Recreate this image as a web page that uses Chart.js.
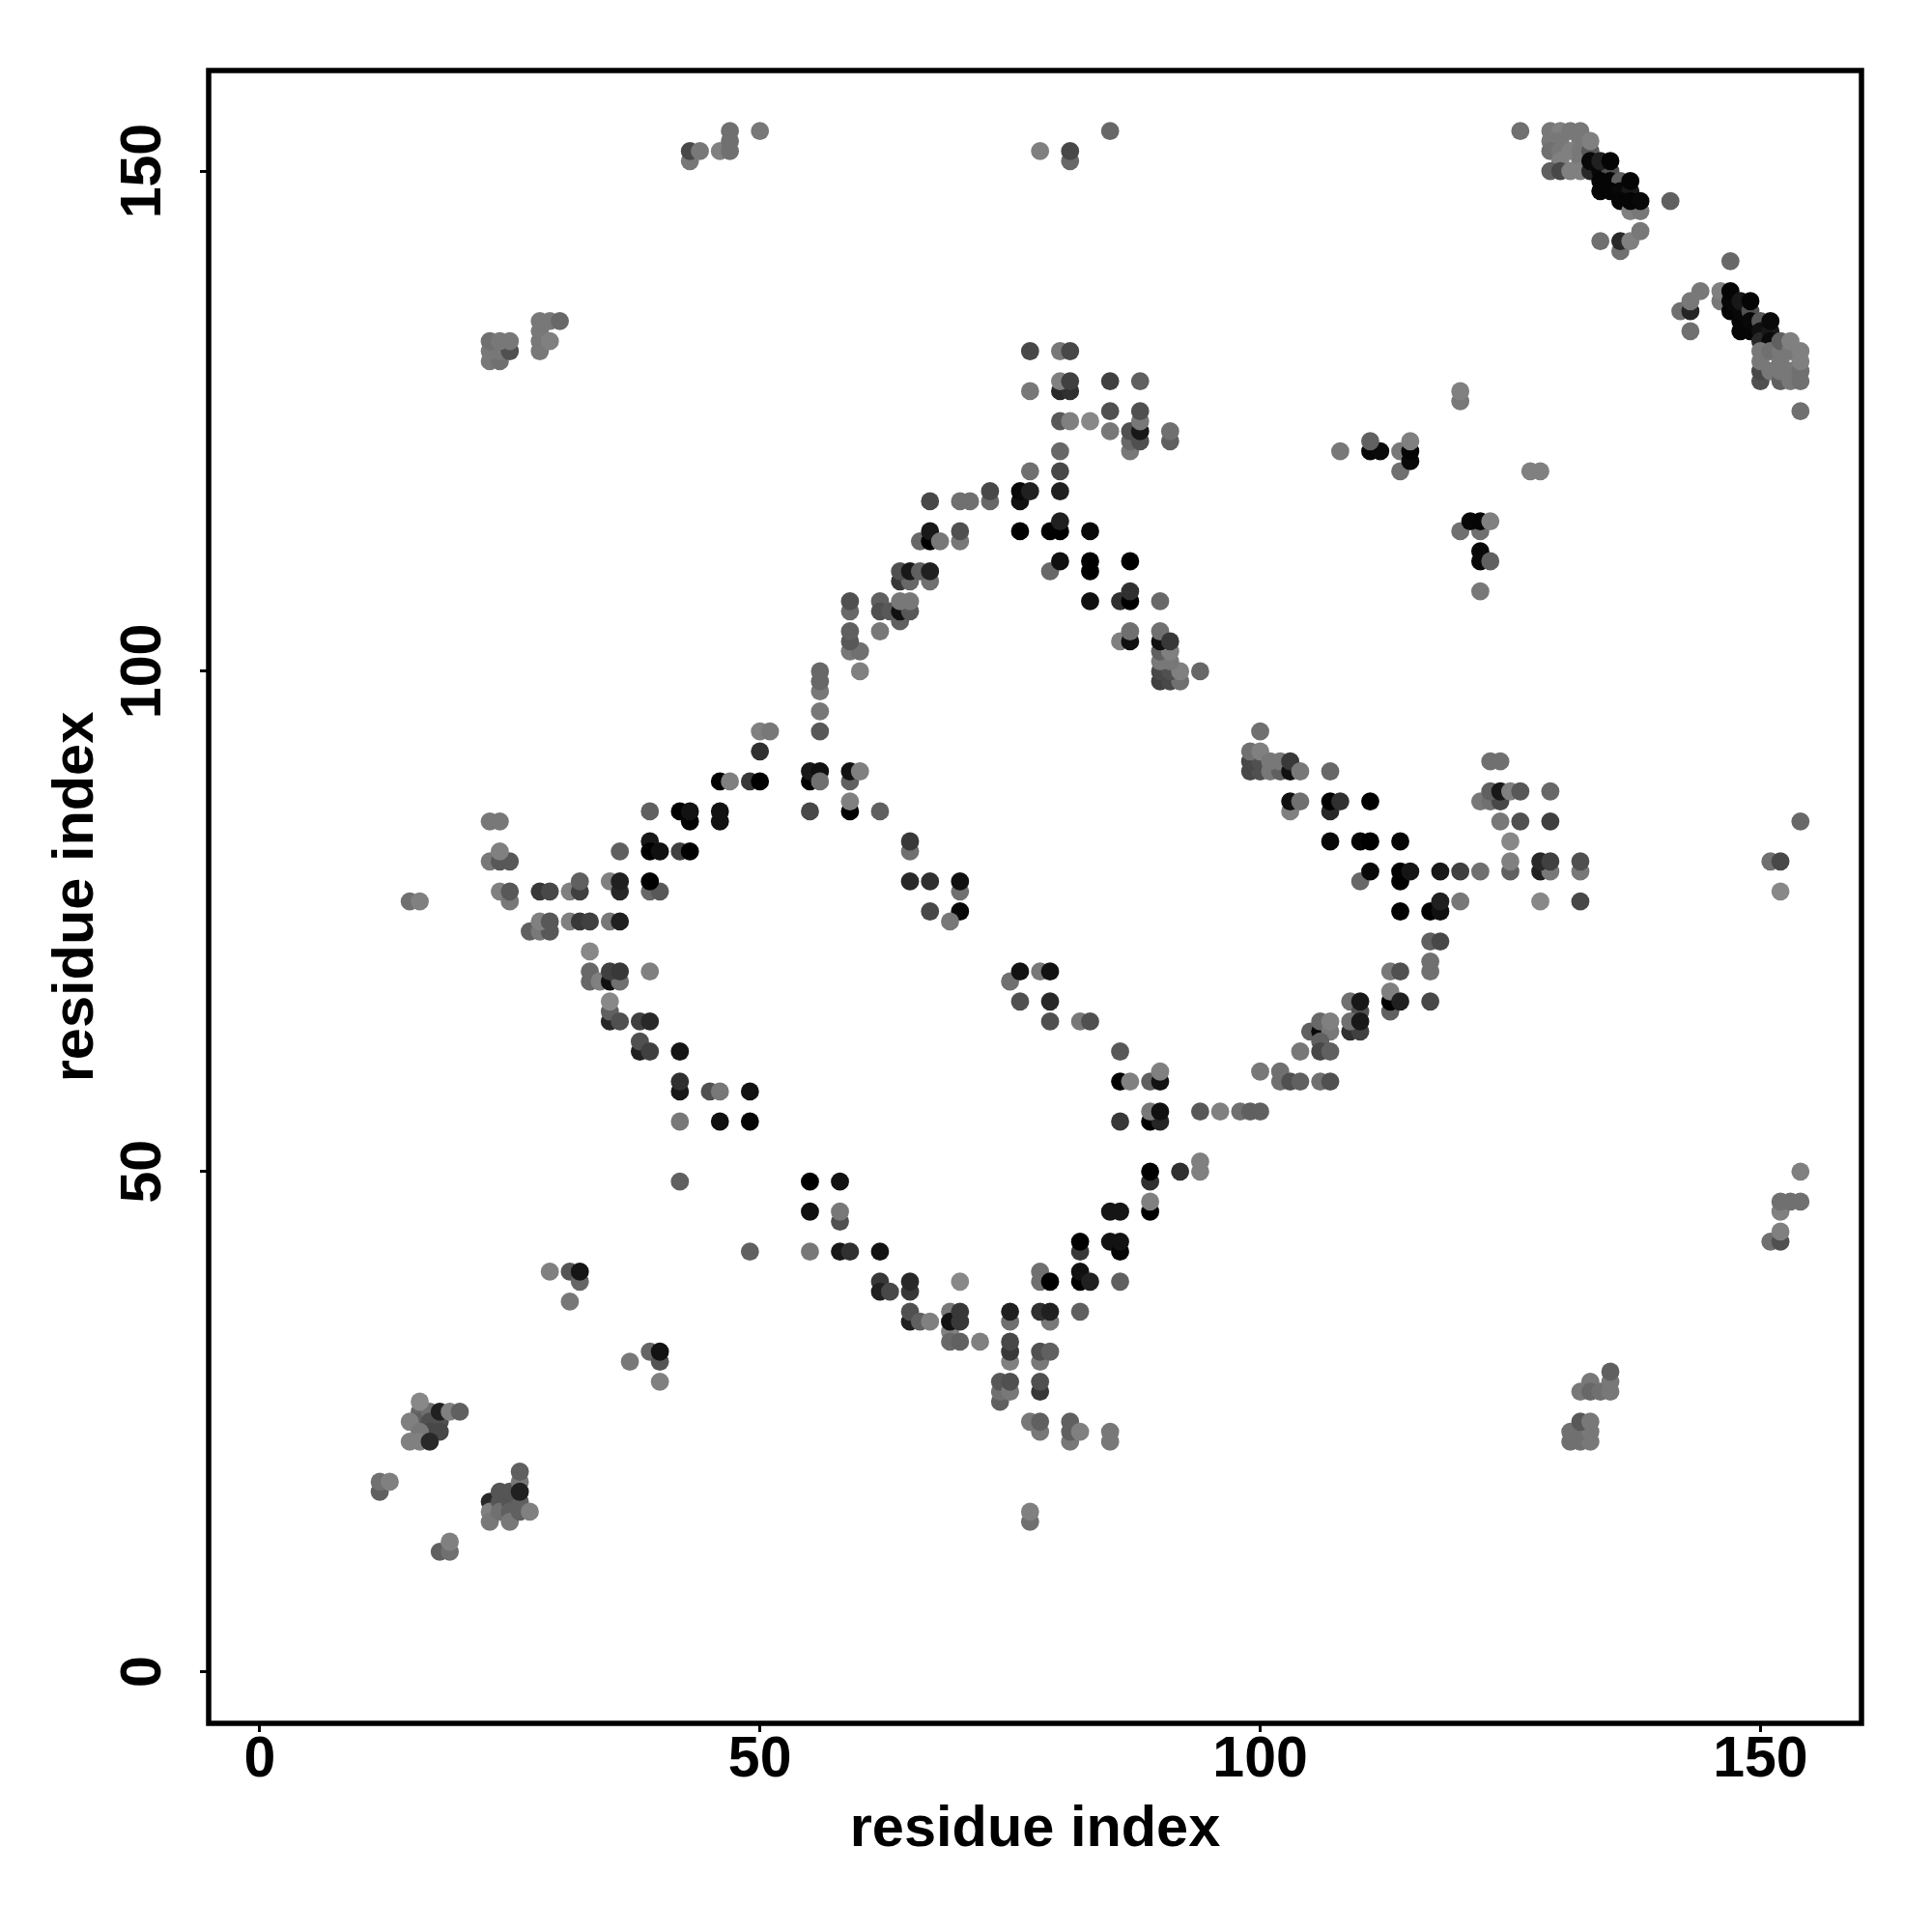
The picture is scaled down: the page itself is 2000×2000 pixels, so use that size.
<!DOCTYPE html>
<html>
<head>
<meta charset="utf-8">
<style>
  html, body { margin: 0; padding: 0; background: #fff; }
  canvas { display: block; }
</style>
<script src="https://cdn.jsdelivr.net/npm/chart.js@4/dist/chart.umd.js"></script>
</head>
<body>
<canvas id="chart" width="2000" height="2000"></canvas>
<script>
const tickValues = [0, 50, 100, 150];
const axisTitle = 'residue index';

// one row per cluster, the three lists line up row by row
const contactX = [
  12,12,13,
  16,16,15,17,17,18,17,18,16,15,16,17,16,18,19,20,
  23,23,23,24,24,25,25,25,26,26,27,24,25,26,26,26,
  18,19,19,
  29,31,32,32,31,
  37,39,40,40,40,
  42,49,
  55,58,55,58,58,
  55,58,59,62,
  62,62,63,65,65,70,
  65,65,66,67,
  69,69,70,69,69,70,70,72,
  75,75,75,75,75,
  79,78,79,78,78,79,
  74,74,74,75,75,78,78,
  77,78,78,81,81,81,82,85,85,77,77,
  86,87,89,90,90,
  86,89,90,89,90,94,96,98,99,100,
  89,89,92,94,94,89,89,
  85,86,82,82,85,86,86,
  78,78,79,82,82,83,86,82,
  15,16,23,24,
  23,24,25,24,
  24,25,25,28,29,
  31,32,32,35,36,36,
  39,40,39,36,
  39,39,40,42,43,
  39,42,43,43,46,46,
  46,47,49,50,
  55,59,59,
  55,55,56,56,59,59,60,
  27,28,29,28,29,31,32,33,35,36,
  33,33,33,34,35,36,35,36,39,
  35,35,35,36,38,39,
  38,38,39,42,
  42,42,45,46,49,42,46,49,
  50,51,50,
  100,99,100,99,100,99,100,101,102,101,102,103,103,104,107,
  103,103,104,107,107,108,111,
  107,110,111,114,
  110,111,114,114,115,118,120,122,
  114,117,118,118,120,
  117,118,117,117,113,114,
  113,113,113,114,117,
  109,110,110,109,110,109,110,
  105,106,106,107,107,106,106,107,104,
  100,102,102,103,104,106,107,
  123,124,122,123,124,123,124,125,126,129,
  124,126,129,125,125,125,
  128,129,128,129,132,132,128,132,
  154,151,152,152,
  154,152,152,153,154,151,152,152,
  77,80,81,77,80,81,80,81,85,88,
  80,81,83,85,85,
  87,87,87,88,88,88,88,91,91,
  80,77,80,80,76,76,77,
  73,73,67,70,71,
  76,79,80,80,83,
  66,67,67,68,70,70,
  79,80,83,83,87,
  83,86,87,87,90,
  64,65,67,64,65,66,67,
  59,59,62,62,63,64,64,65,64,65,
  60,59,60,59,59,62,
  56,56,56,56,56,
  86,87,87,
  90,91,92,90,91,92,94,90,91,90,91,90,90,91,
  23,24,23,24,25,23,24,25,
  28,28,28,29,28,29,30,
  43,43,44,46,47,47,47,50,
  78,81,81,85,
  133,132,133,134,135,135,135,
  131,132,133,131,132,133,132,133,
  120,120,108,111,112,111,
  114,114,115,115,115,
  127,128,120,122,121,122,123,
  122,122,123,122,
  126,
  129,130,131,132,129,130,132,129,130,131,132,130,132,129,130,131,132,133,133,
  133,134,135,133,134,135,134,135,136,134,135,136,137,137,136,137,138,137,138,
  141,136,136,134,137,138,
  147,144,142,143,143,143,
  146,146,147,147,147,148,148,148,149,149,148,149,149,150,150,150,151,151,151,
  150,150,150,150,151,151,152,152,152,152,152,153,153,153,153,154,154,154,154,154,
  86,82,83,79,79,75,76,76,78,79,
  65,65,65,67,70,70,67,70,69,62,
];

const contactY = [
  18,19,19,
  26,25,25,26,25,25,24,24,24,23,23,23,27,26,26,26,
  17,16,15,17,16,17,16,15,17,16,16,18,18,19,20,18,
  12,12,13,
  40,40,39,40,37,
  31,32,31,32,29,
  49,42,
  49,49,46,45,46,
  42,42,42,42,
  39,38,38,38,39,39,
  35,36,35,35,
  34,33,33,36,35,35,36,33,
  35,36,31,32,33,
  35,36,36,31,32,32,
  27,28,29,28,29,28,29,
  25,24,25,23,24,25,24,23,24,15,16,
  59,59,59,59,60,
  55,55,55,56,56,56,56,56,56,56,
  49,50,50,50,51,46,47,
  46,46,42,43,43,42,43,
  39,40,39,39,40,39,39,36,
  77,77,85,85,
  81,81,81,82,
  78,77,78,78,78,
  78,78,79,79,78,79,
  78,78,79,82,
  83,82,82,82,82,
  86,86,85,86,85,86,
  89,89,89,89,
  86,86,87,
  89,90,90,89,89,90,90,
  74,74,74,75,75,75,75,75,75,75,
  72,69,70,69,69,69,70,70,70,
  65,66,67,65,65,65,
  62,63,62,62,
  58,59,58,58,58,55,55,55,
  94,94,92,
  94,90,90,91,91,92,92,90,90,91,91,90,91,90,90,
  86,87,87,86,87,87,87,
  83,83,83,83,
  79,80,79,80,80,80,80,80,
  76,76,76,77,77,
  73,73,70,71,70,70,
  66,67,68,67,67,
  67,66,67,64,64,65,65,
  64,64,65,64,65,63,62,62,62,
  60,60,59,59,59,59,59,
  91,91,87,87,87,88,88,88,88,88,
  85,85,85,83,80,81,
  80,80,81,81,80,81,77,77,
  85,81,81,78,
  50,46,47,47,47,43,43,44,
  132,132,132,128,128,128,129,129,129,129,
  125,125,125,126,124,
  122,123,124,123,124,125,126,123,124,
  122,120,120,118,117,118,118,
  117,118,117,117,117,
  114,114,114,115,114,
  113,113,114,113,113,114,
  110,111,110,111,111,
  107,107,107,108,107,
  109,109,109,110,110,110,110,
  106,107,107,106,106,105,106,106,107,107,
  100,102,102,103,104,104,
  98,99,100,96,94,
  103,103,104,
  99,99,99,100,100,100,100,101,101,102,102,103,104,103,
  131,131,132,132,132,133,133,133,
  132,133,134,133,135,135,135,
  151,152,152,152,152,153,154,154,
  152,151,152,154,
  29,28,28,28,28,29,30,
  23,23,23,24,24,24,25,25,
  127,128,122,122,122,123,
  120,122,121,122,123,
  120,120,114,114,115,115,115,
  111,112,111,108,
  154,
  154,154,154,154,153,153,153,152,152,152,152,151,151,150,150,150,150,152,153,
  150,150,150,151,151,151,149,149,149,148,148,148,148,149,147,146,146,147,147,
  147,142,143,143,143,144,
  141,138,136,136,137,134,
  137,138,136,137,138,135,136,137,136,137,134,134,135,135,134,133,134,133,135,
  129,130,131,132,130,132,129,130,131,132,133,129,130,132,133,129,130,131,132,126,
  62,65,65,67,65,69,67,70,70,70,
  82,83,79,79,78,79,76,76,75,86,
];

const contactShade = [
  0x60,0x70,0x80,
  0x66,0x60,0x80,0x70,0x50,0x50,0x48,0x48,0x78,0x80,0x80,0x28,0x88,0x20,0x80,0x60,
  0x28,0x80,0x78,0x55,0x70,0x55,0x60,0x78,0x60,0x60,0x80,0x55,0x55,0x78,0x60,0x20,
  0x60,0x70,0x80,
  0x80,0x55,0x66,0x15,0x78,
  0x78,0x66,0x55,0x12,0x80,
  0x60,0x60,
  0x00,0x12,0x10,0x50,0x78,
  0x78,0x18,0x30,0x12,
  0x38,0x20,0x48,0x38,0x28,0x88,
  0x20,0x50,0x60,0x80,
  0x80,0x68,0x60,0x78,0x12,0x38,0x38,0x80,
  0x70,0x20,0x80,0x38,0x48,
  0x78,0x30,0x20,0x78,0x50,0x60,
  0x60,0x70,0x58,0x78,0x50,0x38,0x50,
  0x78,0x78,0x60,0x78,0x60,0x60,0x80,0x78,0x78,0x70,0x80,
  0x00,0x80,0x60,0x12,0x80,
  0x38,0x00,0x25,0x78,0x10,0x58,0x80,0x70,0x60,0x60,
  0x30,0x00,0x30,0x80,0x80,0x00,0x80,
  0x15,0x15,0x38,0x00,0x12,0x05,0x12,
  0x70,0x70,0x00,0x00,0x10,0x20,0x60,0x60,
  0x70,0x80,0x78,0x78,
  0x78,0x58,0x58,0x80,
  0x80,0x78,0x58,0x38,0x48,
  0x80,0x40,0x60,0x80,0x28,0x20,
  0x68,0x58,0x00,0x60,
  0x18,0x00,0x10,0x40,0x00,
  0x60,0x00,0x00,0x12,0x12,0x12,
  0x00,0x80,0x38,0x00,
  0x48,0x00,0x80,
  0x00,0x18,0x10,0x70,0x60,0x12,0x80,
  0x60,0x78,0x58,0x80,0x58,0x80,0x38,0x40,0x78,0x20,
  0x88,0x68,0x68,0x80,0x10,0x70,0x40,0x38,0x80,
  0x28,0x60,0x88,0x50,0x40,0x28,
  0x20,0x50,0x40,0x15,
  0x18,0x30,0x50,0x78,0x12,0x78,0x10,0x05,
  0x80,0x78,0x30,
  0x70,0x48,0x50,0x48,0x50,0x70,0x80,0x78,0x60,0x78,0x78,0x10,0x38,0x78,0x68,
  0x80,0x10,0x70,0x28,0x00,0x30,0x00,
  0x08,0x05,0x00,0x05,
  0x68,0x08,0x00,0x00,0x15,0x18,0x40,0x70,
  0x00,0x00,0x10,0x20,0x78,
  0x60,0x48,0x70,0x70,0x78,0x50,
  0x60,0x00,0x80,0x20,0x48,
  0x70,0x50,0x18,0x30,0x40,0x70,0x18,
  0x60,0x08,0x68,0x78,0x80,0x60,0x48,0x60,0x78,
  0x78,0x70,0x70,0x50,0x60,0x70,0x50,
  0x70,0x70,0x78,0x70,0x48,0x60,0x18,0x80,0x58,0x68,
  0x78,0x50,0x40,0x88,0x60,0x80,
  0x20,0x78,0x28,0x40,0x78,0x50,0x88,0x48,
  0x68,0x70,0x48,0x88,
  0x80,0x80,0x70,0x70,0x70,0x70,0x50,0x80,
  0x48,0x78,0x48,0x78,0x28,0x30,0x80,0x40,0x40,0x60,
  0x58,0x80,0x88,0x50,0x78,
  0x78,0x68,0x50,0x50,0x18,0x78,0x50,0x60,0x70,
  0x68,0x70,0x48,0x20,0x10,0x08,0x20,
  0x68,0x48,0x48,0x70,0x70,
  0x00,0x00,0x00,0x20,0x08,
  0x68,0x00,0x18,0x78,0x78,0x50,
  0x68,0x10,0x00,0x00,0x00,
  0x10,0x30,0x00,0x30,0x68,
  0x38,0x68,0x70,0x50,0x18,0x60,0x20,
  0x68,0x50,0x60,0x50,0x58,0x60,0x10,0x58,0x78,0x78,
  0x80,0x78,0x70,0x58,0x60,0x78,
  0x78,0x68,0x68,0x78,0x58,
  0x80,0x10,0x70,
  0x40,0x48,0x70,0x48,0x50,0x80,0x68,0x78,0x78,0x60,0x80,0x10,0x70,0x38,
  0x78,0x70,0x78,0x78,0x50,0x70,0x78,0x78,
  0x78,0x78,0x78,0x80,0x78,0x78,0x68,
  0x78,0x48,0x78,0x80,0x70,0x70,0x70,0x78,
  0x80,0x68,0x48,0x68,
  0x78,0x78,0x68,0x70,0x78,0x78,0x60,
  0x70,0x70,0x78,0x70,0x70,0x78,0x58,0x78,
  0x78,0x80,0x78,0x08,0x0a,0x60,
  0x70,0x78,0x0a,0x05,0x80,
  0x80,0x80,0x70,0x70,0x08,0x05,0x80,
  0x08,0x08,0x60,0x78,
  0x70,
  0x78,0x80,0x78,0x78,0x78,0x78,0x78,0x70,0x78,0x80,0x78,0x80,0x78,0x60,0x48,0x80,0x80,0x58,0x80,
  0x28,0x08,0x50,0x08,0x20,0x05,0x05,0x05,0x60,0x05,0x05,0x08,0x18,0x05,0x05,0x80,0x78,0x05,0x08,
  0x60,0x70,0x28,0x70,0x80,0x78,
  0x68,0x78,0x70,0x25,0x78,0x70,
  0x78,0x80,0x05,0x08,0x05,0x05,0x08,0x18,0x50,0x05,0x05,0x05,0x08,0x58,0x10,0x28,0x18,0x0a,0x0a,
  0x50,0x48,0x78,0x78,0x78,0x70,0x60,0x78,0x78,0x78,0x60,0x78,0x78,0x78,0x80,0x70,0x70,0x80,0x80,0x70,
  0x58,0x78,0x50,0x28,0x50,0x70,0x50,0x12,0x78,0x12,
  0x70,0x38,0x28,0x30,0x70,0x10,0x48,0x08,0x78,0x60,
];

const points = contactX.map((x, i) => ({ x, y: contactY[i] }));
const pointColors = contactShade.map((s) => `rgb(${s},${s},${s})`);

const fontFamily = '"Liberation Sans", Arial, sans-serif';
const tickFont = { family: fontFamily, size: 59, weight: 'bold' };
const titleFont = { family: fontFamily, size: 59.5, weight: 'bold' };

// R style closed box round the plot
const boxPlugin = {
  id: 'box',
  afterDraw(chart) {
    const { ctx, chartArea } = chart;
    ctx.save();
    ctx.strokeStyle = '#000';
    ctx.lineWidth = 5.5;
    ctx.lineJoin = 'miter';
    ctx.strokeRect(chartArea.left, chartArea.top,
      chartArea.right - chartArea.left, chartArea.bottom - chartArea.top);
    ctx.restore();
  },
};

function setTicks(scale) {
  scale.ticks = tickValues.map((value) => ({ value }));
}

new Chart(document.getElementById('chart').getContext('2d'), {
  type: 'scatter',
  data: {
    datasets: [{
      data: points,
      backgroundColor: pointColors,
      borderWidth: 0,
      pointRadius: 9.4,
    }],
  },
  options: {
    responsive: false,
    animation: false,
    events: [],
    layout: { padding: { left: 0, top: 73, right: 73, bottom: 0 } },
    plugins: { legend: { display: false }, tooltip: { enabled: false } },
    scales: {
      x: {
        type: 'linear',
        min: -5.1,
        max: 160.1,
        afterBuildTicks: setTicks,
        afterFit(scale) { scale.height = 216; },
        border: { display: false },
        grid: { drawOnChartArea: false, tickColor: '#000', tickWidth: 3, tickLength: 9 },
        ticks: { color: '#000', font: tickFont, padding: -6, maxRotation: 0, autoSkip: false },
        title: { display: true, text: axisTitle, color: '#000', font: titleFont, padding: { top: 0, bottom: 70 } },
      },
      y: {
        type: 'linear',
        min: -5.15,
        max: 160.05,
        afterBuildTicks: setTicks,
        afterFit(scale) { scale.width = 216; },
        border: { display: false },
        grid: { drawOnChartArea: false, tickColor: '#000', tickWidth: 3, tickLength: 9 },
        ticks: { color: '#000', font: tickFont, padding: 8, minRotation: 90, maxRotation: 90, crossAlign: 'center', autoSkip: false },
        title: { display: true, text: axisTitle, color: '#000', font: titleFont, padding: { top: 44, bottom: 0 } },
      },
    },
  },
  plugins: [boxPlugin],
});
</script>
</body>
</html>
